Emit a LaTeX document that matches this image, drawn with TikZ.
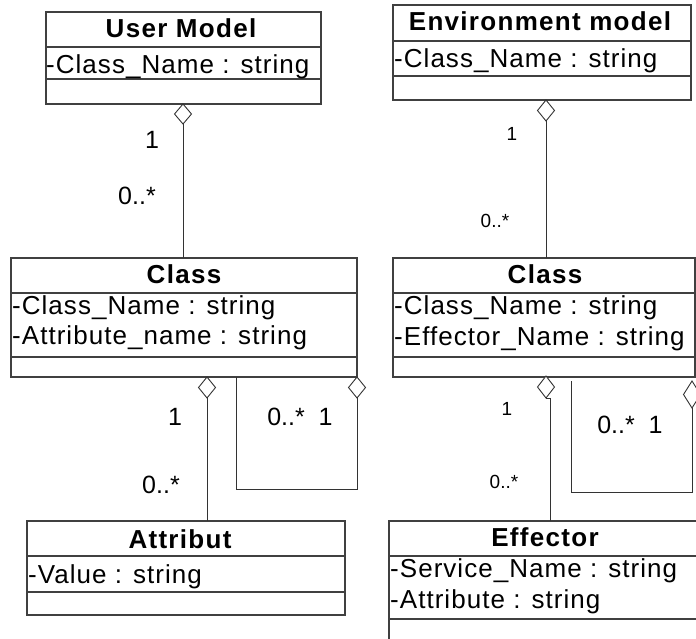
\documentclass[tikz,border=0pt]{standalone}
\usepackage{fontspec}
\setmainfont{Liberation Sans}
\newfontfamily\titlefont[LetterSpace=5]{Liberation Sans}
\newfontfamily\attrfont[LetterSpace=4]{Liberation Sans}
\usetikzlibrary{shapes.geometric,calc}
\tikzset{
  box/.style={draw=black!75, line width=1.1pt, anchor=north west, inner sep=0pt, outer sep=0pt},
  sepline/.style={draw=black!75, line width=1.1pt},
  conn/.style={draw=black!80, line width=0.9pt},
  agg/.style={diamond, draw=black!80, line width=0.9pt, fill=white, anchor=north, inner sep=0pt, outer sep=0pt, minimum width=17pt},
  ttl/.style={anchor=base, inner sep=0pt, font=\titlefont\bfseries\fontsize{26}{30}\selectfont},
  attr/.style={anchor=base west, inner sep=0pt, font=\attrfont\fontsize{26}{30}\selectfont},
  mult/.style={anchor=base, inner sep=0pt, font=\fontsize{25}{29}\selectfont},
  smult/.style={anchor=base, inner sep=0pt, font=\fontsize{19}{22}\selectfont}
}
\begin{document}
\begin{tikzpicture}[x=1pt,y=-1pt]
\useasboundingbox (0,0) rectangle (696,638);
\clip (0,0) rectangle (696,638);

% ---------- User Model
\node[box, minimum width=275pt, minimum height=92pt] (um) at (46,12) {};
\draw[sepline] ($(um.north west)+(0,35)$) -- ($(um.north east)+(0,35)$);
\draw[sepline] ($(um.north west)+(0,67)$) -- ($(um.north east)+(0,67)$);
\node[ttl] (umt) at (181,37) {User Model};
\node[attr] (uma) at (46,73) {-Class\_Name : string};

% ---------- Environment model
\node[box, minimum width=298pt, minimum height=95pt] (em) at (393,5) {};
\draw[sepline] ($(em.north west)+(0,36)$) -- ($(em.north east)+(0,36)$);
\draw[sepline] ($(em.north west)+(0,71)$) -- ($(em.north east)+(0,71)$);
\node[ttl] (emt) at (540,30) {Environment model};
\node[attr] (ema) at (394,67) {-Class\_Name : string};

% ---------- Class (left)
\node[box, minimum width=346pt, minimum height=119pt] (cl) at (11,258) {};
\draw[sepline] ($(cl.north west)+(0,35)$) -- ($(cl.north east)+(0,35)$);
\draw[sepline] ($(cl.north west)+(0,99)$) -- ($(cl.north east)+(0,99)$);
\node[ttl] (clt) at (184,283) {Class};
\node[attr] (cla1) at (12,314) {-Class\_Name : string};
\node[attr] (cla2) at (12,344) {-Attribute\_name : string};

% ---------- Class (right)
\node[box, minimum width=302pt, minimum height=119pt] (cr) at (393,258) {};
\draw[sepline] ($(cr.north west)+(0,35)$) -- ($(cr.north east)+(0,35)$);
\draw[sepline] ($(cr.north west)+(0,99)$) -- ($(cr.north east)+(0,99)$);
\node[ttl] (crt) at (545,283) {Class};
\node[attr] (cra1) at (394,314) {-Class\_Name : string};
\node[attr] (cra2) at (394,345) {-Effector\_Name : string};

% ---------- Attribut
\node[box, minimum width=318pt, minimum height=94pt] (at) at (27,521) {};
\draw[sepline] ($(at.north west)+(0,35)$) -- ($(at.north east)+(0,35)$);
\draw[sepline] ($(at.north west)+(0,71)$) -- ($(at.north east)+(0,71)$);
\node[ttl] (att) at (180,548) {Attribut};
\node[attr] (ata) at (28,583) {-Value : string};

% ---------- Effector
\node[box, minimum width=312pt, minimum height=140pt] (ef) at (389,521) {};
\draw[sepline] ($(ef.north west)+(0,35)$) -- ($(ef.north east)+(0,35)$);
\draw[sepline] ($(ef.north west)+(0,98)$) -- ($(ef.north east)+(0,98)$);
\node[ttl] (eft) at (545,546) {Effector};
\node[attr] (efa1) at (390,577) {-Service\_Name : string};
\node[attr] (efa2) at (390,608) {-Attribute : string};

% ---------- aggregation diamonds
\node[agg, minimum height=20pt] (umd) at (183,104) {};
\node[agg, minimum height=21pt] (emd) at (546,100) {};
\node[agg, minimum height=21pt] (cld) at (207,377) {};
\node[agg, minimum height=21pt] (cld2) at (357,377) {};
\node[agg, minimum height=22pt] (crd) at (546,376) {};
\node[agg, minimum height=27pt] (crd2) at (692,381) {};

% ---------- connectors
\draw[conn] (umd.south) -- (umd.south |- cl.north);
\draw[conn] (emd.south) -- (emd.south |- cr.north);
\draw[conn] (cld.south) -- (cld.south |- at.north);
\coordinate (cll) at (236,377);
\draw[conn] (cll) -- ++(0,112) -| (cld2.south);
\draw[conn] (crd.south) -- ++(4,0) coordinate (crj) -- (crj |- ef.north);
\coordinate (crl) at (571,381);
\draw[conn] (crl) -- ++(0,111) -| (crd2.south);

% ---------- multiplicities
\node[mult] (m1) at (152,148) {1};
\node[mult] (m2) at (137,204) {0..*};
\node[smult] (m3) at (512,140) {1};
\node[smult] (m4) at (495,227) {0..*};
\node[mult] (m5) at (175,425) {1};
\node[mult] (m6) at (300,425) {0..*\ \ 1};
\node[mult] (m7) at (161,493) {0..*};
\node[smult] (m8) at (507,415) {1};
\node[mult] (m9) at (630,433) {0..*\ \ 1};
\node[smult] (m10) at (504,488) {0..*};
\end{tikzpicture}
\end{document}
